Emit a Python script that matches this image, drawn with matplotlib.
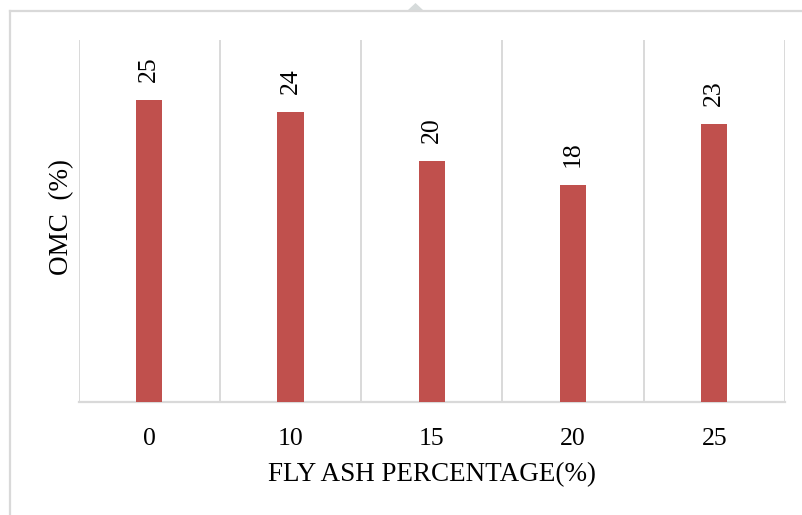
import matplotlib.pyplot as plt
from matplotlib.lines import Line2D
from matplotlib.patches import Polygon

# fly ash content vs optimum moisture content
fly_ash = ["0", "10", "15", "20", "25"]
omc = [25, 24, 20, 18, 23]

bar_color = "#C0504D"
grid_color = "#D9D9D9"

plt.rcParams["font.family"] = ["Liberation Serif", "DejaVu Serif"]

fig = plt.figure(figsize=(8.03, 5.15), dpi=100)
ax = fig.add_axes([0.0978, 0.2194, 0.8798, 0.7029])

x = range(len(fly_ash))
bars = ax.bar(x, omc, width=0.185, color=bar_color, zorder=3)

# value labels, rotated above each bar
for b, v in zip(bars, omc):
    ax.annotate(str(v), (b.get_x() + b.get_width() / 2, v),
                xytext=(0, 13), textcoords="offset points",
                rotation=90, ha="center", va="bottom", fontsize=18.5)

ax.set_xlim(-0.5, len(fly_ash) - 0.5)
ax.set_ylim(0, 30)

# category separators
ax.set_xticks([i - 0.5 for i in range(len(fly_ash) + 1)], minor=True)
ax.grid(True, axis="x", which="minor", color=grid_color, linewidth=1.4, zorder=0)
ax.set_xticks(list(x))
ax.set_xticklabels(fly_ash, fontsize=18.5)
ax.tick_params(axis="x", which="both", length=0, pad=19)
ax.set_yticks([])

for s in ["left", "right", "top"]:
    ax.spines[s].set_visible(False)
ax.spines["bottom"].set_color(grid_color)
ax.spines["bottom"].set_linewidth(1.6)

ax.set_xlabel("FLY ASH PERCENTAGE(%)", fontsize=19.5)
ax.xaxis.set_label_coords(0.5, -0.2017)
ax.set_ylabel("OMC  (%)", fontsize=19.5)
ax.yaxis.set_label_coords(-0.0234, 0.51)
ax.xaxis.label.set_va("center")
ax.yaxis.label.set_va("center")

# outer chart frame and the small handle on top
W, H = 803, 515
fig.add_artist(Line2D([10.5 / W, 10.5 / W], [0, 1 - 11 / H], color=grid_color, linewidth=1.6))
fig.add_artist(Line2D([10.5 / W, 1.0], [1 - 11 / H, 1 - 11 / H], color=grid_color, linewidth=1.6))
fig.add_artist(Polygon([[408 / W, 1 - 10 / H], [423 / W, 1 - 10 / H], [415.5 / W, 1 - 3 / H]],
                       closed=True, transform=fig.transFigure,
                       facecolor="#D6DBDB", edgecolor="none"))

fig.savefig("out.png", dpi=100)
